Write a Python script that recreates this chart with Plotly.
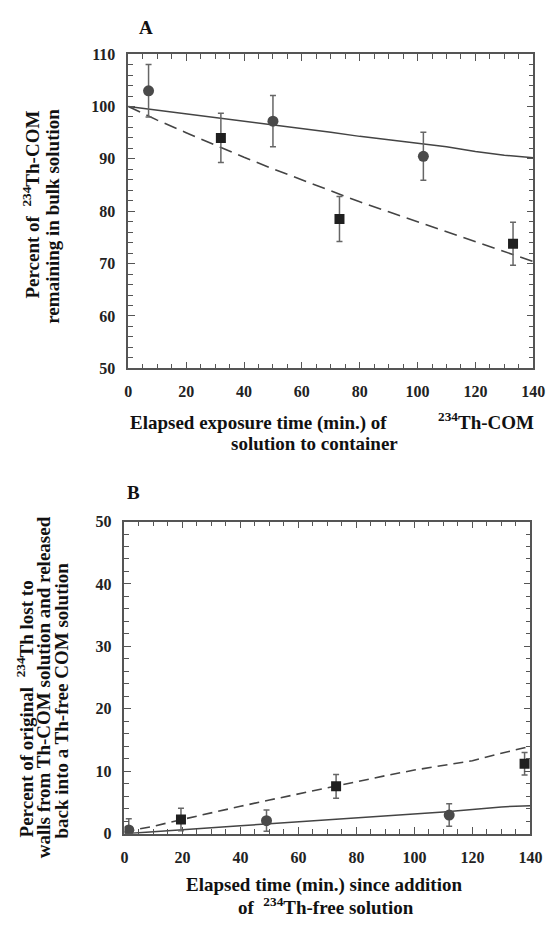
import plotly.graph_objects as go

W, H = 555, 938

# ---- Panel A: fraction of 234Th-COM remaining in bulk solution ----
a_circle_x = [7, 50, 102]
a_circle_y = [103.0, 97.2, 90.5]
a_circle_err = [5.0, 4.9, 4.6]

a_square_x = [32, 73, 133]
a_square_y = [94.0, 78.5, 73.8]
a_square_err = [4.7, 4.3, 4.1]

a_fit_x = [0, 10, 20, 30, 40, 50, 60, 70, 80, 90, 100, 110, 120, 130, 140]
a_solid_y = [100, 99.3, 98.6, 97.9, 97.3, 96.5, 95.8, 95.1, 94.3, 93.6, 92.9, 92.3, 91.4, 90.7, 90.2]
a_dashed_y = [100, 97.4, 95.0, 92.6, 90.3, 88.1, 86.0, 83.8, 81.8, 79.9, 78.0, 76.2, 74.3, 72.3, 70.4]

# ---- Panel B: 234Th released back from the walls ----
b_circle_x = [1.5, 49, 112]
b_circle_y = [0.6, 2.1, 3.0]
b_circle_err = [1.8, 1.7, 1.8]

b_square_x = [19.5, 73, 138]
b_square_y = [2.3, 7.6, 11.2]
b_square_err = [1.8, 1.9, 1.8]

b_fit_x = [0, 10, 20, 30, 40, 50, 60, 70, 80, 90, 100, 110, 120, 130, 140]
b_solid_y = [0, 0.35, 0.7, 1.0, 1.3, 1.6, 1.9, 2.2, 2.5, 2.8, 3.1, 3.5, 3.9, 4.3, 4.5]
b_dashed_y = [0.3, 1.2, 2.3, 3.4, 4.4, 5.4, 6.4, 7.3, 8.4, 9.3, 10.2, 11.0, 11.7, 12.9, 14.0]

x_ticks = [0, 20, 40, 60, 80, 100, 120, 140]
a_y_ticks = [50, 60, 70, 80, 90, 100, 110]
b_y_ticks = [0, 10, 20, 30, 40, 50]

SERIF = "Liberation Serif"
AXIS_COLOR = "#555555"
LINE_COLOR = "#444444"
CIRCLE_COLOR = "#4a4a4a"
SQUARE_COLOR = "#1f1f1f"
ERR_COLOR = "#666666"


def px_x(p):
    return p / W


def px_y(p):
    return 1 - p / H


fig = go.Figure()


def add_panel(xa, ya, fx, solid, dashed, dash, cx, cy, ce, sx, sy, se):
    fig.add_trace(go.Scatter(x=fx, y=solid, mode="lines", xaxis=xa, yaxis=ya,
                             line=dict(color=LINE_COLOR, width=1.5), showlegend=False))
    fig.add_trace(go.Scatter(x=fx, y=dashed, mode="lines", xaxis=xa, yaxis=ya,
                             line=dict(color=LINE_COLOR, width=1.6, dash=dash), showlegend=False))
    fig.add_trace(go.Scatter(
        x=cx, y=cy, mode="markers", xaxis=xa, yaxis=ya, showlegend=False,
        marker=dict(symbol="circle", size=11, color=CIRCLE_COLOR),
        error_y=dict(type="data", array=ce, color=ERR_COLOR, thickness=1.5, width=3)))
    fig.add_trace(go.Scatter(
        x=sx, y=sy, mode="markers", xaxis=xa, yaxis=ya, showlegend=False,
        marker=dict(symbol="square", size=10, color=SQUARE_COLOR),
        error_y=dict(type="data", array=se, color=ERR_COLOR, thickness=1.5, width=3)))


add_panel("x", "y", a_fit_x, a_solid_y, a_dashed_y, "13px,7px",
          a_circle_x, a_circle_y, a_circle_err, a_square_x, a_square_y, a_square_err)
add_panel("x2", "y2", b_fit_x, b_solid_y, b_dashed_y, "10px,6px",
          b_circle_x, b_circle_y, b_circle_err, b_square_x, b_square_y, b_square_err)

tick_font = dict(family=SERIF, size=16, color="#222222", weight="bold")


def axis(domain, rng, ticks, minor_dtick, anchor):
    return dict(
        domain=domain, range=rng, anchor=anchor,
        tickvals=ticks, ticktext=[str(t) for t in ticks],
        ticks="inside", ticklen=7, tickwidth=1.3, tickcolor=AXIS_COLOR,
        minor=dict(ticks="inside", dtick=minor_dtick, ticklen=5, tickwidth=1.2, tickcolor=AXIS_COLOR),
        showline=True, linecolor=AXIS_COLOR, linewidth=1.5, mirror="allticks",
        showgrid=False, zeroline=False, tickfont=tick_font, ticklabelstandoff=8,
    )


fig.update_layout(
    width=W, height=H,
    margin=dict(l=0, r=0, t=0, b=0),
    paper_bgcolor="white", plot_bgcolor="white",
    xaxis=axis([px_x(128), px_x(545)], [0, 140], x_ticks, 5, "y"),
    yaxis=axis([px_y(367), px_y(47)], [50, 110], a_y_ticks, 2, "x"),
    xaxis2=axis([px_x(124), px_x(542)], [0, 140], x_ticks, 5, "y2"),
    yaxis2=axis([px_y(841), px_y(523)], [0, 50], b_y_ticks, 2, "x2"),
)

SUP = "<sup>234</sup>"
NB = "\u00a0"

# (text, x px, y px, anchor, angle, size)
labels = [
    ("A", 146, 20, "center", 0, 19),
    ("B", 133, 493, "center", 0, 19),
    # panel A x title
    ("Elapsed exposure time (min.) of", 128, 423, "left", 0, 19),
    (SUP + "Th-COM", 548, 421, "right", 0, 19),
    ("solution to container", 320, 444, "center", 0, 19),
    # panel B x title
    ("Elapsed time (min.) since addition", 330, 893, "center", 0, 19),
    ("of " + NB + SUP + "Th-free solution", 332, 915, "center", 0, 19),
    # panel A y title
    ("Percent of " + NB + SUP + "Th-COM", 28, 200, "center", -90, 19),
    ("remaining in bulk solution", 50, 212, "center", -90, 19),
    # panel B y title
    ("Percent of original " + NB + SUP + "Th lost to", 22, 714, "center", -90, 19),
    ("walls from Th-COM solution and released", 41, 692, "center", -90, 19),
    ("back into a Th-free COM solution", 59, 705, "center", -90, 19),
]
for text, x, y, anchor, ang, size in labels:
    fig.add_annotation(text=text, x=px_x(x), y=px_y(y), xref="paper", yref="paper",
                       xanchor=anchor, yanchor="middle", showarrow=False,
                       textangle=ang,
                       font=dict(family=SERIF, size=size, color="#111111", weight="bold"))

fig.write_html("out.html")
